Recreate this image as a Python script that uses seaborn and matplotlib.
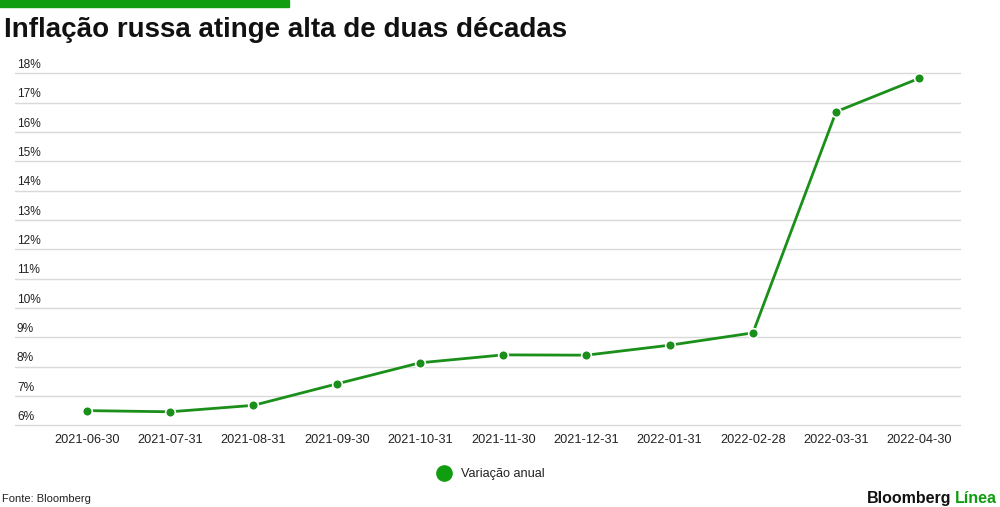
import matplotlib
matplotlib.use("Agg")
import matplotlib.pyplot as plt
from matplotlib.lines import Line2D
import matplotlib.transforms as mtransforms
import seaborn as sns
import pandas as pd

datas = ["2021-06-30", "2021-07-31", "2021-08-31", "2021-09-30", "2021-10-31",
         "2021-11-30", "2021-12-31", "2022-01-31", "2022-02-28", "2022-03-31",
         "2022-04-30"]
variacao_anual = [6.50, 6.46, 6.68, 7.41, 8.13, 8.40, 8.39, 8.73, 9.15, 16.69, 17.83]
y_ticks = [6, 7, 8, 9, 10, 11, 12, 13, 14, 15, 16, 17, 18]
serie_nome = "Variação anual"
titulo = "Inflação russa atinge alta de duas décadas"
fonte = "Fonte: Bloomberg"

GREEN = "#1a8f1a"
BAR_GREEN = "#109d10"

sns.set_theme(style="white")
plt.rcParams["font.family"] = ["Liberation Sans", "DejaVu Sans"]

df = pd.DataFrame({"data": datas, "valor": variacao_anual})

fig = plt.figure(figsize=(10, 5.07), dpi=100)
ax = fig.add_axes([0.015, 0.1554, 0.946, 0.703])

sns.lineplot(data=df, x="data", y="valor", ax=ax, color=GREEN, linewidth=2,
             marker="o", markersize=7, markeredgecolor="white",
             markeredgewidth=1.2, sort=False)

ax.set_xlim(-0.865, 10.5)
ax.set_ylim(5.9, 18.05)
ax.set_yticks(y_ticks)
ax.set_yticklabels([])
ax.tick_params(axis="y", length=0)
ax.grid(axis="y", color="#d9d9d9", linewidth=1)
ax.grid(axis="x", visible=False)
for s in ax.spines.values():
    s.set_visible(False)
ax.set_xlabel("")
ax.set_ylabel("")
ax.tick_params(axis="x", length=0, pad=4, labelsize=9.2, labelcolor="#222222")

trans = mtransforms.blended_transform_factory(ax.transAxes, ax.transData)
for t in y_ticks:
    ax.text(0.002, t + 0.08, f"{t}%", transform=trans, ha="left", va="bottom",
            fontsize=8.6, color="#222222")

# legend
handle = Line2D([], [], linestyle="none", marker="o", markersize=11,
                markerfacecolor=BAR_GREEN, markeredgecolor=BAR_GREEN)
fig.legend([handle], [serie_nome], loc="center", bbox_to_anchor=(0.488, 0.065),
           frameon=False, fontsize=9.2, handletextpad=0.3, labelcolor="#222222")

# top bar
fig.patches.append(plt.Rectangle((0, 1 - 7 / 507), 0.289, 7 / 507,
                                 transform=fig.transFigure, color=BAR_GREEN,
                                 zorder=5))

fig.text(0.004, 0.94, titulo, fontsize=20, fontweight="bold", color="#111111",
         ha="left", va="center")
fig.text(0.002, 0.016, fonte, fontsize=8, color="#222222", ha="left",
         va="center")

fig.canvas.draw()
r = fig.canvas.get_renderer()
t2 = fig.text(0.997, 0.017, "Línea", fontsize=11.5, fontweight="bold",
              color=BAR_GREEN, ha="right", va="center")
bb = t2.get_window_extent(renderer=r)
x0 = (bb.x0 - 4) / fig.bbox.width
fig.text(x0, 0.017, "Bloomberg", fontsize=11.5, fontweight="bold",
         color="#111111", ha="right", va="center")

fig.savefig("out.png", dpi=100, facecolor="white")
